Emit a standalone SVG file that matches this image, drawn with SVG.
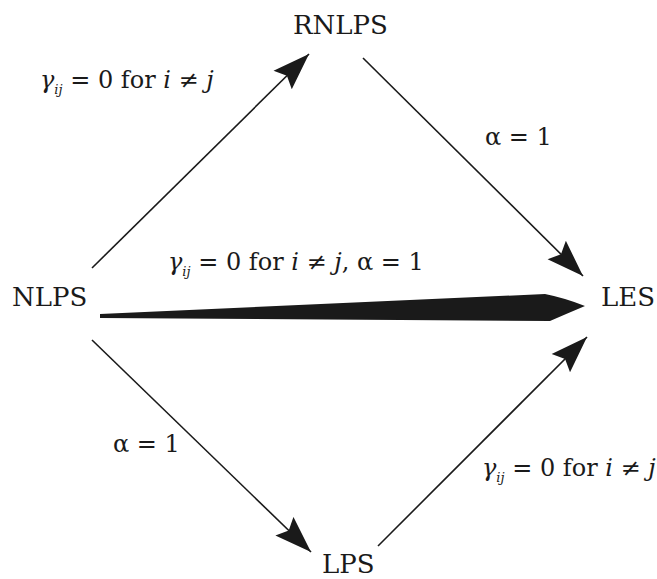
<svg xmlns="http://www.w3.org/2000/svg" width="657" height="579" viewBox="0 0 657 579">
<style>
.node{font-family:"DejaVu Serif","Liberation Serif",serif;font-size:26px;fill:#1a1a1a;}
.lbl{font-family:"DejaVu Serif","Liberation Serif",serif;font-size:24px;fill:#1a1a1a;}
.it{font-style:italic;}
.sub{font-size:13px;font-style:italic;}
.edge{stroke:#1a1a1a;stroke-width:1.6;fill:none;}
</style>
<defs>
<marker id="ah" markerUnits="userSpaceOnUse" markerWidth="40" markerHeight="30" refX="37" refY="14" orient="auto">
<path d="M0,1 L37,14 L0,27 L6,14 z" fill="#1a1a1a"/>
</marker>
</defs>
<rect width="657" height="579" fill="#fff"/>
<g id="connectors">
<line class="edge" x1="92" y1="268" x2="309" y2="54" marker-end="url(#ah)"/>
<line class="edge" x1="363" y1="58" x2="583" y2="276" marker-end="url(#ah)"/>
<line class="edge" x1="92" y1="340" x2="311" y2="552" marker-end="url(#ah)"/>
<line class="edge" x1="378" y1="546" x2="587" y2="337" marker-end="url(#ah)"/>
<path id="wedge" d="M100,314 L545,294 Q565,298 585,306 Q566,314 550,321 L100,318 z" fill="#1a1a1a"/>
</g>
<g id="labels">
<text class="lbl" x="40" y="88"><tspan class="it">γ</tspan><tspan class="sub" dy="6">ij</tspan><tspan dy="-6"> = 0  for </tspan><tspan class="it">i</tspan><tspan> ≠ </tspan><tspan class="it">j</tspan></text>
<text class="lbl" x="168" y="270"><tspan class="it">γ</tspan><tspan class="sub" dy="6">ij</tspan><tspan dy="-6"> = 0  for </tspan><tspan class="it">i</tspan><tspan> ≠ </tspan><tspan class="it">j</tspan><tspan>,  α = 1</tspan></text>
<text class="lbl" x="485" y="145">α = 1</text>
<text class="lbl" x="113" y="452">α = 1</text>
<text class="lbl" x="482" y="476"><tspan class="it">γ</tspan><tspan class="sub" dy="6">ij</tspan><tspan dy="-6"> = 0  for </tspan><tspan class="it">i</tspan><tspan> ≠ </tspan><tspan class="it">j</tspan></text>
</g>
<g id="RNLPS"><text class="node" x="293" y="34">RNLPS</text></g>
<g id="NLPS"><text class="node" x="12" y="306">NLPS</text></g>
<g id="LES"><text class="node" x="601" y="306">LES</text></g>
<g id="LPS"><text class="node" x="322" y="573">LPS</text></g>
</svg>
